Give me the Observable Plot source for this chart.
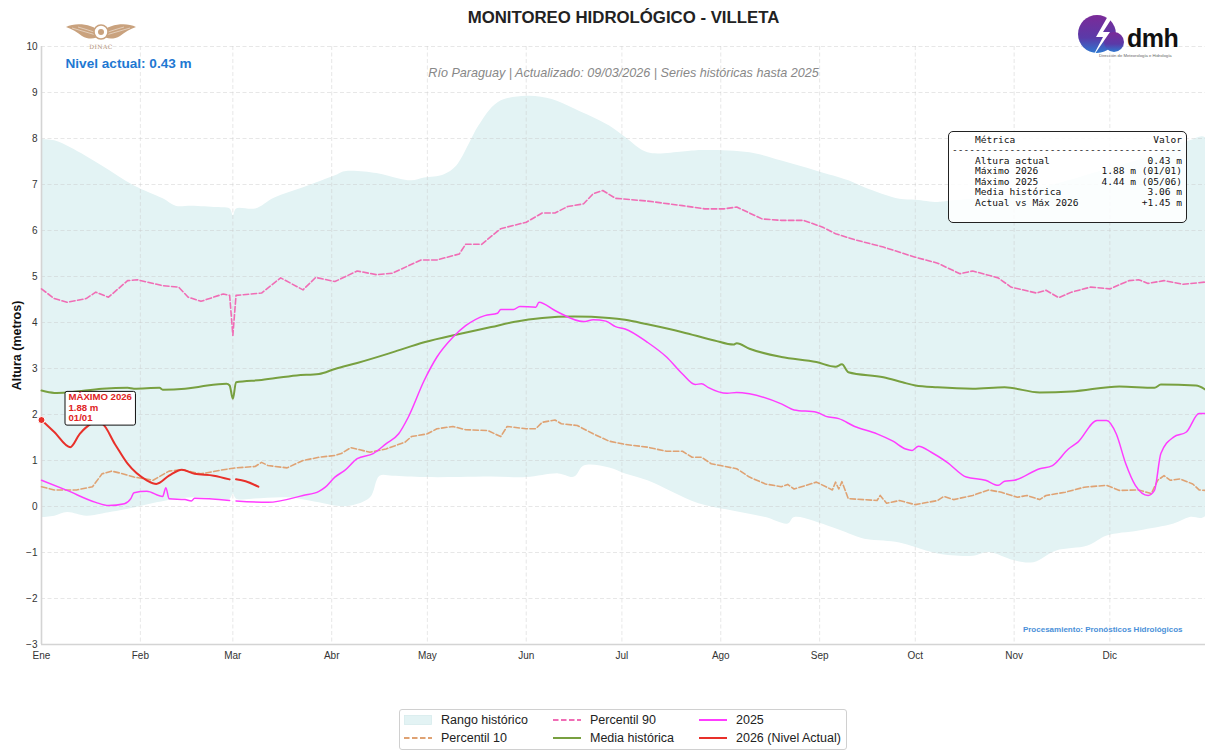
<!DOCTYPE html>
<html><head><meta charset="utf-8">
<script src="https://cdn.jsdelivr.net/npm/d3@7"></script>
<script src="https://cdn.jsdelivr.net/npm/@observablehq/plot@0.6"></script>
<style>
html,body{margin:0;padding:0;background:#fff;overflow:hidden;font-family:"Liberation Sans",Arial,Helvetica,sans-serif;}
#wrap{position:relative;width:1205px;height:751px;overflow:hidden;}
#chart{position:absolute;left:0;top:0;}
#info{position:absolute;left:948px;top:131px;width:239px;height:92px;box-sizing:border-box;border:1px solid #222;border-radius:5px;background:rgba(255,255,255,0.85);}
#info pre{margin:0;position:absolute;left:3px;top:2.5px;font-family:"DejaVu Sans Mono",monospace;font-size:9.55px;line-height:10.55px;color:#111;}
#legend{position:absolute;left:399px;top:709px;width:448px;height:41px;box-sizing:border-box;border:1px solid #d0d0d0;border-radius:3px;background:#fff;}
.li{position:absolute;display:flex;align-items:center;font-size:12.5px;color:#222;height:16px;white-space:nowrap;}
.li svg{margin-right:9px;}
.logo{position:absolute;}
</style></head><body>
<div id="wrap">
  <div id="chart"></div>
  <svg class="logo" style="left:60px;top:18px" width="85" height="36" viewBox="0 0 85 36">
    <g fill="#c9a27e" stroke="none">
      <path d="M41,14 C32,6 16,4 6,9 C12,11 17,14 22,18 C29,22 36,21 41,17 Z"/>
      <path d="M41,14 C50,6 66,4 76,9 C70,11 65,14 60,18 C53,22 46,21 41,17 Z"/>
    </g>
    <g stroke="#fff" stroke-width="0.6" fill="none" opacity="0.8">
      <path d="M12,10 C20,12 28,15 36,17"/><path d="M18,9 C25,11 31,13 37,15"/>
      <path d="M70,10 C62,12 54,15 46,17"/><path d="M64,9 C57,11 51,13 45,15"/>
    </g>
    <circle cx="41" cy="14" r="7" fill="#fff" stroke="#c9a27e" stroke-width="1.6"/>
    <circle cx="41" cy="14" r="3" fill="#c9a27e"/>
    <text x="41" y="31" text-anchor="middle" font-family="'DejaVu Serif',serif" font-size="6" fill="#b39277" letter-spacing="0.4">DINAC</text>
  </svg>
  <svg class="logo" style="left:1070px;top:10px" width="130" height="55" viewBox="0 0 130 55">
    <defs><linearGradient id="dg" x1="0" y1="0" x2="0" y2="1">
      <stop offset="0" stop-color="#7b2a98"/><stop offset="0.6" stop-color="#5a3aa8"/><stop offset="1" stop-color="#2f78d0"/></linearGradient></defs>
    <circle cx="27" cy="24" r="19" fill="url(#dg)"/>
    <circle cx="44" cy="32" r="10" fill="url(#dg)"/>
    <path d="M38,6 L26,27 L33,27 L22,48 L40,22 L33,22 L42,8 Z" fill="#fff"/>
    <text x="57" y="37" font-family="'Liberation Sans',Arial,sans-serif" font-weight="bold" font-size="25" fill="#111" letter-spacing="-0.5">dmh</text>
    <text x="29" y="47" font-family="'Liberation Sans',Arial,sans-serif" font-size="4.2" fill="#666">Dirección de Meteorología e Hidrología</text>
  </svg>
  <div id="info"><pre id="infotext"></pre></div>
  <div id="legend"></div>
</div>
<script>
// ---- Eje X: días del año (año bisiesto, 0 = 1 de enero) ----
const monthStarts = [0,31,60,91,121,152,182,213,244,274,305,335];
const monthLabels = ["Ene","Feb","Mar","Abr","May","Jun","Jul","Ago","Sep","Oct","Nov","Dic"];
const yTicks = [-3,-2,-1,0,1,2,3,4,5,6,7,8,9,10];

// ---- Rango histórico: máximo ----
const maxDays = [0,4,9,19,29,38,42,47,55,59,60,61,67,73,82,92,95,105,112,116,120,126,130,134,137,143,152,160,167,178,183,190,201,207,222,232,243,253,258,269,274,281,285,301,316,332,348,360,365];
const maxVals = [7.99,7.96,7.81,7.41,6.98,6.70,6.54,6.54,6.51,6.48,6.33,6.48,6.48,6.72,6.94,7.20,7.29,7.25,7.13,7.09,7.15,7.22,7.41,7.89,8.28,8.79,8.93,8.86,8.65,8.28,8.03,7.70,7.72,7.75,7.70,7.52,7.30,7.09,6.94,6.69,6.67,6.62,6.65,6.76,6.98,7.30,7.63,7.96,8.02];

// ---- Rango histórico: mínimo ----
const minDays = [0,4,8,14,19,29,36,42,50,59,60,61,66,77,87,92,97,103,106,110,120,131,141,152,162,167,170,178,183,190,206,217,227,234,236,248,258,264,269,274,281,292,297,305,311,318,328,334,344,355,360,365];
const minVals = [-0.23,-0.20,-0.12,-0.20,-0.15,-0.02,0.09,0.17,0.20,0.17,0.28,0.17,0.17,0.20,0.09,0.02,0.02,0.20,0.67,0.67,0.64,0.64,0.65,0.64,0.72,0.65,0.89,0.85,0.72,0.57,0.07,-0.09,-0.23,-0.37,-0.23,-0.45,-0.70,-0.74,-0.78,-0.88,-1.02,-1.07,-0.99,-1.17,-1.21,-0.96,-0.85,-0.63,-0.52,-0.37,-0.23,-0.20];

// ---- Media histórica ----
const meanDays = [0,4,8,19,27,29,37,38,45,50,58,59,60,61,69,80,87,92,99,110,120,131,141,148,157,167,178,183,190,201,211,217,218,222,232,243,249,251,253,264,270,274,281,292,302,313,323,338,349,351,362,365];
const meanVals = [2.52,2.47,2.48,2.56,2.58,2.56,2.58,2.54,2.56,2.61,2.67,2.63,2.34,2.70,2.75,2.85,2.88,2.99,3.12,3.35,3.57,3.75,3.90,4.01,4.10,4.13,4.10,4.06,3.96,3.79,3.61,3.52,3.55,3.43,3.25,3.14,3.04,3.09,2.92,2.81,2.70,2.63,2.59,2.56,2.59,2.48,2.50,2.61,2.58,2.65,2.63,2.54];

// ---- Percentil 90 ----
const p90Days = [0,4,8,14,17,21,27,30,38,43,46,50,57,59,60,61,69,75,82,86,92,99,105,110,119,124,131,133,138,144,152,157,161,165,170,173,176,180,190,201,208,214,218,226,232,239,245,249,255,264,274,281,288,292,300,304,312,315,319,323,329,335,341,344,347,352,358,365];
const p90Vals = [4.73,4.52,4.44,4.52,4.66,4.55,4.91,4.93,4.80,4.77,4.55,4.46,4.62,4.59,3.72,4.59,4.64,4.97,4.71,4.98,4.89,5.12,5.04,5.07,5.36,5.36,5.49,5.70,5.70,6.04,6.18,6.38,6.38,6.52,6.58,6.80,6.87,6.70,6.64,6.54,6.47,6.47,6.51,6.25,6.22,6.22,6.07,5.93,5.80,5.64,5.42,5.29,5.06,5.12,4.97,4.77,4.64,4.70,4.54,4.66,4.77,4.73,4.91,4.93,4.85,4.91,4.83,4.88];

// ---- Percentil 10 ----
const p10Days = [0,4,11,16,19,22,25,29,35,40,44,50,57,61,67,69,71,77,82,87,92,94,97,103,108,114,116,121,124,129,133,140,144,146,152,155,157,161,163,168,173,178,183,190,196,201,204,207,210,218,222,227,232,234,236,243,248,249,250,251,253,262,263,265,269,274,281,283,286,292,297,301,306,309,313,315,321,327,334,338,344,348,350,352,354,357,361,363,365];
const p10Vals = [0.43,0.36,0.36,0.43,0.71,0.77,0.72,0.64,0.57,0.77,0.80,0.71,0.80,0.84,0.87,0.96,0.89,0.84,1.00,1.07,1.11,1.15,1.28,1.18,1.25,1.40,1.52,1.58,1.69,1.74,1.67,1.65,1.52,1.74,1.69,1.69,1.83,1.88,1.80,1.76,1.58,1.42,1.35,1.29,1.20,1.20,1.07,1.07,0.93,0.82,0.64,0.49,0.43,0.48,0.38,0.53,0.36,0.53,0.38,0.54,0.17,0.13,0.24,0.07,0.13,0.04,0.13,0.22,0.15,0.24,0.36,0.31,0.20,0.24,0.15,0.24,0.31,0.42,0.46,0.35,0.36,0.28,0.57,0.67,0.57,0.60,0.49,0.36,0.35];

// ---- Año 2025 ----
const y25Days = [0,8,17,21,26,28,29,33,38,39,40,45,47,48,59,60,61,71,82,87,89,92,95,99,104,108,112,115,120,124,129,133,139,143,144,148,150,155,156,161,170,173,177,180,183,190,196,201,205,207,209,215,218,222,232,236,243,246,250,255,262,267,271,273,275,279,284,290,296,300,302,305,313,317,322,325,331,334,337,340,343,347,349,351,355,359,363,365];
const y25Vals = [0.57,0.35,0.09,0.02,0.06,0.17,0.30,0.33,0.22,0.41,0.17,0.15,0.12,0.18,0.13,null,0.12,0.09,0.24,0.33,0.42,0.64,0.78,1.04,1.15,1.36,1.58,1.94,2.74,3.25,3.68,3.93,4.15,4.20,4.28,4.28,4.35,4.33,4.44,4.26,4.02,4.06,4.03,3.91,3.86,3.57,3.25,2.88,2.65,2.67,2.59,2.46,2.48,2.45,2.23,2.10,2.05,1.96,1.91,1.74,1.58,1.42,1.25,1.22,1.31,1.18,0.96,0.64,0.57,0.46,0.55,0.57,0.82,0.89,1.25,1.40,1.87,1.87,1.58,0.93,0.46,0.24,0.35,1.15,1.51,1.62,2.02,2.02];

// ---- Año 2026 (nivel actual) ----
const y26Days = [0,4,9,12,14,17,19,23,27,33,36,40,44,48,54,59,60,61,64,68];
const y26Vals = [1.88,1.62,1.29,1.58,1.72,1.83,1.80,1.36,0.93,0.57,0.49,0.67,0.80,0.71,0.67,0.59,null,0.59,0.55,0.43];

// ---- Textos / métricas ----
const titleText = "MONITOREO HIDROLÓGICO - VILLETA";
const subtitleText = "Río Paraguay | Actualizado: 09/03/2026 | Series históricas hasta 2025";
const nivelActual = 0.43;
const max2026 = {day: 0, value: 1.88, label: "01/01"};
const metricLabels = ["Altura actual","Máximo 2026","Máximo 2025","Media histórica","Actual vs Máx 2026"];
const metricValues = ["0.43 m","1.88 m (01/01)","4.44 m (05/06)","3.06 m","+1.45 m"];
const creditText = "Procesamiento: Pronósticos Hidrológicos";
const yLabel = "Altura (metros)";

// ---- Colores ----
const C = {band:"#e3f3f4", p90:"#f06db5", p10:"#dfa273", mean:"#78a040", y25:"#ff3cff", y26:"#e8302a"};

const rows = (days, vals) => days.map((d, i) => ({day: d, value: vals[i]}));
const bandPoly = rows(maxDays, maxVals).concat(rows(minDays, minVals).reverse());

const chart = Plot.plot({
  width: 1205, height: 700,
  marginLeft: 41, marginRight: 0, marginTop: 46, marginBottom: 56,
  style: {fontFamily: "'Liberation Sans', Arial, Helvetica, sans-serif", fontSize: "10px", color: "#333", background: "#fff"},
  x: {domain: [0, 365], ticks: monthStarts, tickFormat: d => monthLabels[monthStarts.indexOf(d)], tickSize: 0, tickPadding: 7, label: null},
  y: {domain: [-3, 10], ticks: yTicks, tickFormat: d => d < 0 ? "\u2212" + (-d) : String(d), tickSize: 0, tickPadding: 4, label: null},
  marks: [
    Plot.line(bandPoly, {x: "day", y: "value", fill: C.band, stroke: "none", curve: "catmull-rom"}),
    Plot.ruleY(yTicks, {stroke: "#c8c8c8", strokeOpacity: 0.55, strokeDasharray: "4,2.5", strokeWidth: 0.8}),
    Plot.ruleX(monthStarts, {stroke: "#c8c8c8", strokeOpacity: 0.55, strokeDasharray: "4,2.5", strokeWidth: 0.8}),
    Plot.ruleX([0], {stroke: "#d4d4d4", strokeWidth: 1.6}),
    Plot.ruleY([-3], {stroke: "#d4d4d4", strokeWidth: 1.6}),
    Plot.line(rows(p90Days, p90Vals), {x: "day", y: "value", stroke: C.p90, strokeWidth: 1.6, strokeDasharray: "5.5,2.5"}),
    Plot.line(rows(p10Days, p10Vals), {x: "day", y: "value", stroke: C.p10, strokeWidth: 1.6, strokeDasharray: "5.5,2.5"}),
    Plot.line(rows(meanDays, meanVals), {x: "day", y: "value", stroke: C.mean, strokeWidth: 2, curve: "monotone-x"}),
    Plot.line(rows(y25Days, y25Vals), {x: "day", y: "value", stroke: C.y25, strokeWidth: 1.5, curve: "monotone-x"}),
    Plot.line(rows(y26Days, y26Vals), {x: "day", y: "value", stroke: C.y26, strokeWidth: 2, curve: "monotone-x"}),
    Plot.dot([max2026], {x: "day", y: "value", r: 3.5, fill: C.y26, stroke: "#fff", strokeWidth: 1}),
    Plot.text([max2026], {x: "day", y: "value", text: d => `MÁXIMO 2026\n${d.value.toFixed(2)} m\n${d.label}`,
      dx: 27, dy: -27, textAnchor: "start", lineAnchor: "top", lineHeight: 1.08,
      fontSize: 9.6, fontWeight: "bold", fill: "#e02424"}),
    Plot.text([titleText], {text: d => d, frameAnchor: "top", dy: -29, textAnchor: "middle", lineAnchor: "middle",
      fontSize: 16.8, fontWeight: "bold", fill: "#222"}),
    Plot.text([subtitleText], {text: d => d, frameAnchor: "top", dy: 26, textAnchor: "middle", lineAnchor: "middle",
      fontSize: 12.6, fontStyle: "italic", fill: "#888"}),
    Plot.text([`Nivel actual: ${nivelActual.toFixed(2)} m`], {text: d => d, frameAnchor: "top-left", dx: 24, dy: 17,
      textAnchor: "start", lineAnchor: "middle", fontSize: 13.6, fontWeight: "bold", fill: "#1e78d2"}),
    Plot.text([creditText], {text: d => d, frameAnchor: "bottom-right", dx: -23, dy: -15,
      textAnchor: "end", lineAnchor: "middle", fontSize: 8, fontWeight: "bold", fill: "#4a90d9"}),
    Plot.text([yLabel], {text: d => d, frameAnchor: "left", dx: -25, rotate: -90,
      textAnchor: "middle", lineAnchor: "middle", fontSize: 12.5, fontWeight: "bold", fill: "#111"})
  ]
});
document.getElementById("chart").append(chart);

// caja detrás de la anotación del máximo
const annot = d3.select(chart).selectAll("text").filter(function() { return this.textContent.startsWith("MÁXIMO"); }).node();
if (annot) {
  const bb = annot.getBBox();
  const rect = document.createElementNS("http://www.w3.org/2000/svg", "rect");
  rect.setAttribute("x", bb.x - 3.5); rect.setAttribute("y", bb.y);
  rect.setAttribute("width", bb.width + 7); rect.setAttribute("height", bb.height + 2);
  rect.setAttribute("rx", 2); rect.setAttribute("fill", "#fff");
  rect.setAttribute("stroke", "#111"); rect.setAttribute("stroke-width", 1);
  if (annot.getAttribute("transform")) rect.setAttribute("transform", annot.getAttribute("transform"));
  annot.parentNode.insertBefore(rect, annot);
}

// tabla de métricas
const W = 40;
const padRow = (l, r) => "    " + l + " ".repeat(Math.max(1, W - 4 - l.length - r.length)) + r;
const infoLines = [padRow("Métrica", "Valor"), "-".repeat(W)].concat(metricLabels.map((l, i) => padRow(l, metricValues[i])));
document.getElementById("infotext").textContent = infoLines.join("\n");

// leyenda
const legendItems = [
  {label: "Rango histórico", kind: "band", color: C.band, col: 0, row: 0},
  {label: "Percentil 10", kind: "dash", color: C.p10, col: 0, row: 1},
  {label: "Percentil 90", kind: "dash", color: C.p90, col: 1, row: 0},
  {label: "Media histórica", kind: "line", color: C.mean, col: 1, row: 1},
  {label: "2025", kind: "line", color: C.y25, col: 2, row: 0},
  {label: "2026 (Nivel Actual)", kind: "line", color: C.y26, col: 2, row: 1}
];
const colX = [4, 153, 299], rowY = [2, 20];
const legend = document.getElementById("legend");
for (const it of legendItems) {
  const div = document.createElement("div");
  div.className = "li";
  div.style.left = colX[it.col] + "px";
  div.style.top = rowY[it.row] + "px";
  let sw;
  if (it.kind === "band") sw = `<svg width="28" height="12"><rect x="0.5" y="1.5" width="27" height="9" fill="${it.color}" stroke="#d6eced" stroke-width="0.8"/></svg>`;
  else sw = `<svg width="28" height="12"><line x1="0" x2="28" y1="6" y2="6" stroke="${it.color}" stroke-width="2" ${it.kind === "dash" ? 'stroke-dasharray="5.5,2.5"' : ""}/></svg>`;
  div.innerHTML = sw + `<span>${it.label}</span>`;
  legend.append(div);
}
</script>
</body></html>
